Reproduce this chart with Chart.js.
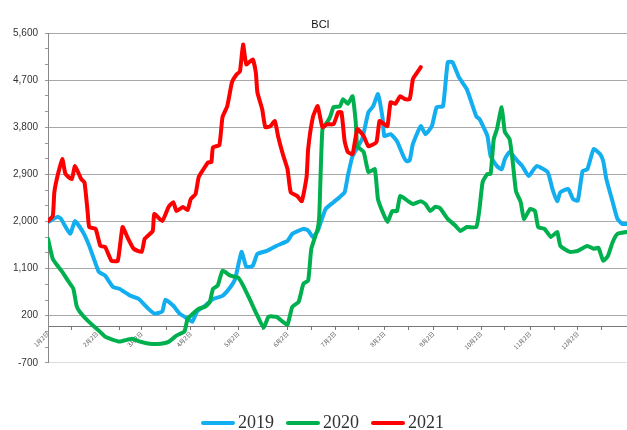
<!DOCTYPE html>
<html>
<head>
<meta charset="utf-8">
<script src="https://cdn.jsdelivr.net/npm/chart.js@4/dist/chart.umd.min.js"></script>
<style>
  html, body { margin: 0; padding: 0; background: #ffffff; }
  #wrap { width: 627px; height: 430px; position: relative; }
</style>
</head>
<body>
<div id="wrap"><canvas id="c"></canvas></div>
<script>
// ---- data (day index counted from 1月2日) ----
const days2019 = [0,6,8,14,17,22,26,32,36,41,45,52,57,62,67,72,74,79,83,88,91,94,99,104,110,115,118,122,125,129,132,138,144,151,154,161,164,167,170,175,180,184,187,189,192,198,202,205,208,211,212,216,220,224,226,228,230,235,238,242,245,249,252,255,259,264,270,272,277,279,283,286,288,291,296,299,303,308,315,318,321,323,328,331,334,337,340,344,348,350,352,356,359,362,365];
const bci2019 = [1990,2090,2060,1765,2010,1800,1535,1040,965,750,715,580,525,370,240,280,505,390,240,145,85,280,390,520,580,750,905,1420,1135,1150,1380,1440,1535,1630,1765,1860,1830,1705,1820,2240,2370,2470,2560,2870,3250,3575,4090,4205,4435,3960,3635,3670,3535,3250,3155,3170,3480,3825,3670,3825,4185,4205,5045,5045,4760,4530,4010,3960,3635,3250,3060,3000,3195,3330,3155,3060,2870,3060,2945,2620,2390,2560,2620,2430,2400,2965,3000,3385,3290,3155,2810,2370,2050,1955,1955];

const days2020 = [0,3,6,9,13,16,18,20,25,32,36,39,45,53,58,64,71,76,81,86,88,90,95,99,102,104,107,110,115,120,123,127,132,136,139,144,148,151,154,158,161,164,166,170,171,173,176,178,180,184,186,189,192,194,195,199,202,206,208,211,214,217,220,222,227,230,235,238,241,244,247,252,257,260,264,270,272,274,277,279,281,283,286,288,291,293,295,298,300,304,307,309,313,317,321,323,329,334,340,344,347,350,353,356,359,365];
const bci2020 = [1670,1285,1155,1040,850,715,390,275,105,-85,-200,-240,-295,-240,-295,-335,-335,-300,-180,-100,145,200,335,370,465,715,775,1060,965,925,775,525,200,-30,180,180,85,30,370,465,810,870,1480,1860,2105,3765,3900,4010,4185,4200,4340,4250,4395,3900,3440,3330,2945,3000,2430,2180,1990,2200,2200,2490,2390,2335,2390,2335,2200,2280,2260,2050,1915,1820,1895,1895,2240,2755,2910,2910,3575,3765,4185,3710,3575,3135,2580,2370,2050,2240,2200,1895,1860,1705,1800,1535,1420,1440,1535,1480,1500,1250,1345,1610,1765,1800];

const days2021 = [0,3,4,6,9,11,15,17,21,23,25,26,30,33,36,40,44,47,50,54,59,61,66,67,72,76,79,81,85,88,90,93,95,98,101,103,104,108,110,113,116,119,121,123,125,129,131,132,135,137,140,143,145,148,151,153,157,160,163,164,167,170,173,176,180,183,185,187,189,192,195,199,202,207,209,212,214,216,219,222,225,228,230,231,235];
const bci2021 = [2010,2105,2560,2870,3195,2910,2810,3060,2810,2750,2180,1895,1860,1535,1515,1250,1250,1895,1705,1480,1420,1670,1820,2145,2010,2280,2370,2200,2280,2220,2430,2525,2850,3000,3135,3135,3420,3460,3995,4205,4665,4815,4870,5385,5005,5100,4850,4470,4150,3805,3820,3920,3635,3290,3000,2560,2490,2390,2850,3385,3995,4205,3805,3860,3860,4090,4090,3535,3330,3290,3765,3635,3440,3515,3920,3860,3825,4280,4250,4395,4340,4340,4720,4775,4950];

const seriesNames = ['2019', '2020', '2021'];
const seriesColors = ['#12AEEF', '#00B04F', '#FF0000'];

const monthDays = [0,31,59,90,120,151,181,212,243,273,304,334];
const monthLabels = ['1月2日','2月2日','3月2日','4月2日','5月2日','6月2日','7月2日','8月2日','9月2日','10月2日','11月2日','12月2日'];
const halfMonthDays = [15,45,75,105,135,166,196,227,258,288,319,349,365];

const yTicks = [-700, 200, 1100, 2000, 2900, 3800, 4700, 5600];

// ---- helpers ----
function pts(days, vals) { return days.map((d, i) => ({ x: d, y: vals[i] })); }
function lineIcon(color) {
  const c = document.createElement('canvas');
  c.width = 34; c.height = 6;
  const g = c.getContext('2d');
  g.strokeStyle = color; g.lineWidth = 4; g.lineCap = 'round';
  g.beginPath(); g.moveTo(2, 3); g.lineTo(32, 3); g.stroke();
  return c;
}
const allSeries = [[days2019, bci2019], [days2020, bci2020], [days2021, bci2021]];

const datasets = allSeries.map((s, i) => ({
  label: seriesNames[i],
  data: pts(s[0], s[1]),
  borderColor: seriesColors[i],
  backgroundColor: seriesColors[i],
  borderWidth: 4,
  pointRadius: 0,
  pointHoverRadius: 0,
  pointStyle: lineIcon(seriesColors[i]),
  tension: 0.15,
  borderJoinStyle: 'round',
  borderCapStyle: 'round',
  fill: false,
  order: 3 - i
}));

const majorY = new Set(yTicks);
const monthSet = new Set(monthDays);

// shift legend and title horizontally to match the original centring
const nudge = {
  id: 'nudge',
  afterLayout(chart) {
    if (chart.legend) { chart.legend.left += 12; chart.legend.right += 12; }
    if (chart.titleBlock) { chart.titleBlock.left += 7; chart.titleBlock.right += 7; }
  }
};

new Chart(document.getElementById('c'), {
  type: 'line',
  data: { datasets },
  plugins: [nudge],
  options: {
    responsive: true,
    maintainAspectRatio: false,
    animation: false,
    layout: { padding: { left: 0, right: 0, top: 0, bottom: -12 } },
    plugins: {
      title: {
        display: true,
        text: 'BCI',
        color: '#111',
        font: { family: 'Liberation Sans', size: 11, weight: 'normal' },
        padding: { top: 18, bottom: 2 }
      },
      legend: {
        position: 'bottom',
        title: { display: true, text: '', font: { size: 1 }, padding: 16 },
        labels: {
          usePointStyle: true,
          pointStyleWidth: 22,
          boxHeight: 6,
          padding: 18,
          color: '#333',
          font: { family: 'Liberation Serif', size: 18 },
          sort: (a, b) => a.datasetIndex - b.datasetIndex
        }
      },
      tooltip: { enabled: false }
    },
    scales: {
      x: {
        type: 'linear',
        position: { y: 0 },
        min: 0,
        max: 365,
        afterBuildTicks: (s) => {
          s.ticks = monthDays.concat(halfMonthDays).sort((a, b) => a - b).map(v => ({ value: v }));
        },
        afterFit: (s) => { s.paddingLeft = 0; s.paddingRight = 0; },
        ticks: {
          autoSkip: false,
          minRotation: 45,
          maxRotation: 45,
          padding: 1,
          color: '#555',
          font: { family: 'Noto Sans CJK SC', size: 6 },
          callback: (v) => monthSet.has(v) ? monthLabels[monthDays.indexOf(v)] : ''
        },
        grid: { drawOnChartArea: false, drawTicks: true, tickLength: 3, color: '#777' },
        border: { color: '#777', width: 1 }
      },
      y: {
        type: 'linear',
        min: -700,
        max: 5600,
        afterBuildTicks: (s) => {
          const t = [];
          for (let k = 0; k < yTicks.length; k++) {
            t.push({ value: yTicks[k] });
            if (k < yTicks.length - 1) {
              const step = (yTicks[k + 1] - yTicks[k]) / 3;
              t.push({ value: yTicks[k] + step });
              t.push({ value: yTicks[k] + 2 * step });
            }
          }
          s.ticks = t;
        },
        afterFit: (s) => { s.width = 48; },
        ticks: {
          autoSkip: false,
          padding: 7,
          color: '#333',
          font: { family: 'Liberation Sans', size: 10 },
          callback: (v) => majorY.has(v) ? v.toLocaleString('en-US') : ''
        },
        grid: {
          color: (ctx) => (ctx.tick && majorY.has(ctx.tick.value)) ? (ctx.tick.value === -700 ? '#dcdcdc' : '#a8a8a8') : 'rgba(0,0,0,0)',
          tickColor: '#999',
          tickLength: 3,
          lineWidth: 1
        },
        border: { color: '#888', width: 1 }
      }
    }
  }
});
</script>
</body>
</html>
